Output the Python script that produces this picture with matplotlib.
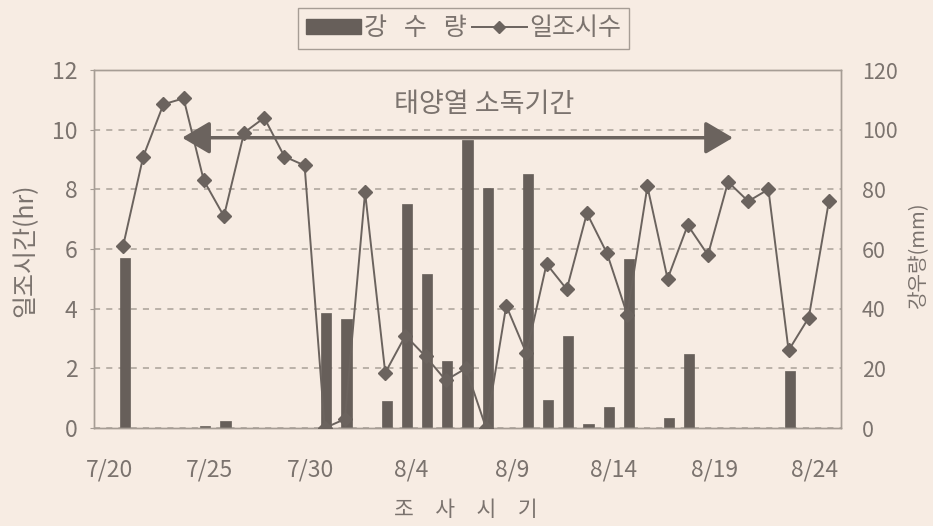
import numpy as np
import matplotlib
matplotlib.use("Agg")
import matplotlib.pyplot as plt
from matplotlib.patches import Patch
from matplotlib.lines import Line2D
import matplotlib.transforms as mtransforms
import pandas as pd

plt.rcParams['font.family'] = ['Noto Sans CJK KR', 'DejaVu Sans']

# ---------------- data ----------------
dates = [f"{d.month}/{d.day}" for d in pd.date_range("2000-07-20", "2000-08-24")]
sunshine_hr = [6.1, 9.1, 10.85, 11.05, 8.3, 7.1, 9.9, 10.4, 9.1, 8.8,
               0.0, 0.3, 7.9, 1.85, 3.1, 2.4, 1.6, 2.0, 0.0, 4.1,
               2.5, 5.5, 4.65, 7.2, 5.85, 3.8, 8.1, 5.0, 6.8, 5.8,
               8.25, 7.6, 8.0, 2.6, 3.7, 7.6]
rain_mm = [57, 0, 0, 0, 0.7, 2.5, 0, 0, 0, 0,
           38.5, 36.5, 0, 9, 75, 51.5, 22.5, 96.5, 80.5, 0,
           85, 9.5, 31, 1.5, 7.2, 56.5, 0, 3.3, 24.7, 0,
           0, 0, 0, 19, 0, 0]
tick_labels = ["7/20", "7/25", "7/30", "8/4", "8/9", "8/14", "8/19", "8/24"]
left_ticks = [0, 2, 4, 6, 8, 10, 12]
right_ticks = [0, 20, 40, 60, 80, 100, 120]
period_start, period_end = "7/23", "8/19"

# ---------------- style ----------------
BG = "#f7ece3"
BAR = "#675f5a"
LINE = "#6b635e"
TXT = "#7b736e"
SPINE = "#a69d95"
GRID = "#aaa198"

fig = plt.figure(figsize=(9.33, 5.26), dpi=100, facecolor=BG)
ax = fig.add_axes([0.1008, 0.1863, 0.8006, 0.6806])
ax2 = ax.twinx()
ax.set_zorder(2)
ax2.set_zorder(1)
ax.patch.set_visible(False)
ax2.patch.set_visible(True)
ax2.patch.set_facecolor(BG)

x = np.arange(len(dates))

# bars (rain) on right axis
ax2.bar(x + 0.08, rain_mm, width=0.5, color=BAR, edgecolor=BAR, linewidth=0.5, zorder=2)
ax2.set_ylim(0, 120)
ax2.set_yticks(right_ticks)
ax2.yaxis.grid(True, linestyle=(0, (4, 4)), color=GRID, linewidth=1.1)
ax2.set_axisbelow(True)

# line (sunshine) on left axis
ax.plot(x, sunshine_hr, color=LINE, linewidth=1.4, marker='D', markersize=7.5,
        markerfacecolor=LINE, markeredgecolor=LINE, zorder=3)
ax.set_ylim(0, 12)
ax.set_yticks(left_ticks)
ax.set_xlim(-1.44, 35.6)

tick_pos = [dates.index(t) for t in tick_labels]
ax.set_xticks(tick_pos)
ax.set_xticklabels(tick_labels)

for a in (ax, ax2):
    for s in a.spines.values():
        s.set_color(SPINE)
        s.set_linewidth(1.0)

ax.tick_params(axis='y', direction='out', length=3, width=0.8, color=SPINE,
               labelsize=16.5, labelcolor=TXT, pad=9)
ax2.tick_params(axis='y', length=0, labelsize=15.5, labelcolor=TXT, pad=15)
ax.tick_params(axis='x', length=0, labelsize=16.5, labelcolor=TXT, pad=22)

off = mtransforms.ScaledTranslation(-0.14, 0, fig.dpi_scale_trans)
for lbl in ax.get_xticklabels():
    lbl.set_transform(lbl.get_transform() + off)

# solar disinfection period arrow
xs = dates.index(period_start) - 0.07
xe = dates.index(period_end) + 0.24
ax.annotate('', xy=(xe, 9.73), xytext=(xs, 9.73),
            arrowprops=dict(arrowstyle='<|-|>,head_length=0.85,head_width=0.5',
                            lw=2.5, color=LINE, mutation_scale=20,
                            shrinkA=0, shrinkB=0), zorder=4)
ax.text(17.9, 10.86, "태양열 소독기간", ha='center', va='center',
        fontsize=19.5, color=TXT)

# axis labels
fig.text(0.027, 0.525, "일조시간(hr)", rotation=90, ha='center', va='center',
         fontsize=18, color=TXT)
fig.text(0.984, 0.515, "강우량(mm)", rotation=90, ha='center', va='center',
         fontsize=14.5, color=TXT)
fig.text(0.4995, 1 - 510 / 526, "조\u3000사\u3000시\u3000기", ha='center', va='center',
         fontsize=15.5, color=TXT)

# legend
handles = [Patch(facecolor=BAR, edgecolor=BAR),
           Line2D([], [], color=LINE, marker='D', markersize=6.5, linewidth=1.4)]
leg = fig.legend(handles, ["강   수   량", "일조시수"], loc='center',
                 bbox_to_anchor=(0.497, 0.946), ncol=2, frameon=True,
                 fancybox=False, edgecolor=SPINE, facecolor=BG, framealpha=1,
                 fontsize=18, labelcolor=TXT, handlelength=2.2, handleheight=0.56,
                 handletextpad=0.12, columnspacing=0.2, borderpad=0.3)
leg.get_frame().set_linewidth(1.0)

fig.savefig("out.png", dpi=100, facecolor=BG)
